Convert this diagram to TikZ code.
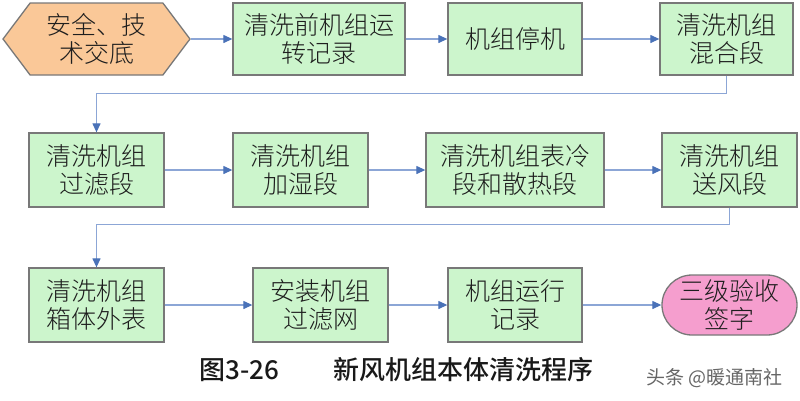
\documentclass[tikz,border=0pt]{standalone}
\usepackage{fontspec}
\newfontfamily\cjk{Noto Sans CJK SC Light}
\newfontfamily\cjkm{Noto Sans CJK SC Medium}
\newfontfamily\cjkr{Noto Sans CJK SC}
\usetikzlibrary{shapes.symbols,arrows.meta}
\definecolor{boxfill}{RGB}{204,245,204}
\definecolor{hexfill}{RGB}{250,200,152}
\definecolor{pinkfill}{RGB}{245,158,206}
\definecolor{edge}{RGB}{120,120,120}
\definecolor{link}{RGB}{140,166,214}
\definecolor{tip}{RGB}{74,114,184}
\definecolor{txt}{RGB}{30,30,30}
\tikzset{
  base/.style={draw=edge, line width=1.3pt, inner sep=0pt, align=center, text=txt,
    font=\cjk\fontsize{25}{28}\selectfont},
  stepbox/.style={base, rectangle, fill=boxfill, minimum height=74pt},
  hexbox/.style={base, signal, signal from=nowhere, signal to={west and east}, signal pointer angle=106,
    fill=hexfill, minimum height=72pt, minimum width=187pt},
  endbox/.style={base, rectangle, rounded corners=30pt, fill=pinkfill, draw=edge,
    minimum height=60pt, minimum width=135pt},
  conn/.style={draw=link, line width=1.2pt, -{Triangle[length=9pt,width=8pt,fill=tip,color=tip]}},
  captext/.style={font=\cjkm\fontsize{26}{30}\selectfont, text=black!90, inner sep=0pt},
}
\begin{document}
\begin{tikzpicture}[x=1pt,y=-1pt]
\useasboundingbox (0,0) rectangle (800,400);
% row 1
\node[hexbox] (hex) at (96.5,39) {\fontsize{25}{39}\selectfont 安全、技\\术交底};
\node[stepbox, minimum width=172pt, minimum height=72pt] (b2) at (319,39) {\fontsize{25}{37}\selectfont 清洗前机组运\\转记录};
\node[stepbox, minimum width=134pt, minimum height=72pt] (b3) at (515,39) {机组停机};
\node[stepbox, minimum width=133pt, minimum height=72pt] (b4) at (726.5,39) {清洗机组\\混合段};
% row 2
\node[stepbox, minimum width=135pt] (b5) at (96.5,170) {清洗机组\\过滤段};
\node[stepbox, minimum width=135pt] (b6) at (300.5,170) {清洗机组\\加湿段};
\node[stepbox, minimum width=178pt] (b7) at (515,170) {清洗机组表冷\\段和散热段};
\node[stepbox, minimum width=135pt] (b8) at (729.5,170) {清洗机组\\送风段};
% row 3
\node[stepbox, minimum width=135pt] (b9) at (96.5,305) {清洗机组\\箱体外表};
\node[stepbox, minimum width=135pt] (b10) at (320.5,305) {安装机组\\过滤网};
\node[stepbox, minimum width=134pt] (b11) at (515,305) {机组运行\\记录};
\node[endbox] (term) at (729.5,305) {三级验收\\签字};
% connectors
\draw[conn] (hex.east) -- (b2.west);
\draw[conn] (b2.east) -- (b3.west);
\draw[conn] (b3.east) -- (b4.west);
\draw[conn] (b4.south) -- ++(0,18) -| (b5.north);
\draw[conn] (b5.east) -- (b6.west);
\draw[conn] (b6.east) -- (b7.west);
\draw[conn] (b7.east) -- (b8.west);
\draw[conn] (b8.south) -- ++(0,17) -| (b9.north);
\draw[conn] (b9.east) -- (b10.west);
\draw[conn] (b10.east) -- (b11.west);
\draw[conn] (b11.east) -- (term.west);
% caption
\node[captext] (capnum) at (239.5,370) {图3-26};
\node[captext] (captext) at (463,370) {新风机组本体清洗程序};
\node[font=\cjkr\fontsize{19}{22}\selectfont, text=black!60, inner sep=0pt] (mark) at (714.5,378) {头条 @暖通南社};
\end{tikzpicture}
\end{document}
